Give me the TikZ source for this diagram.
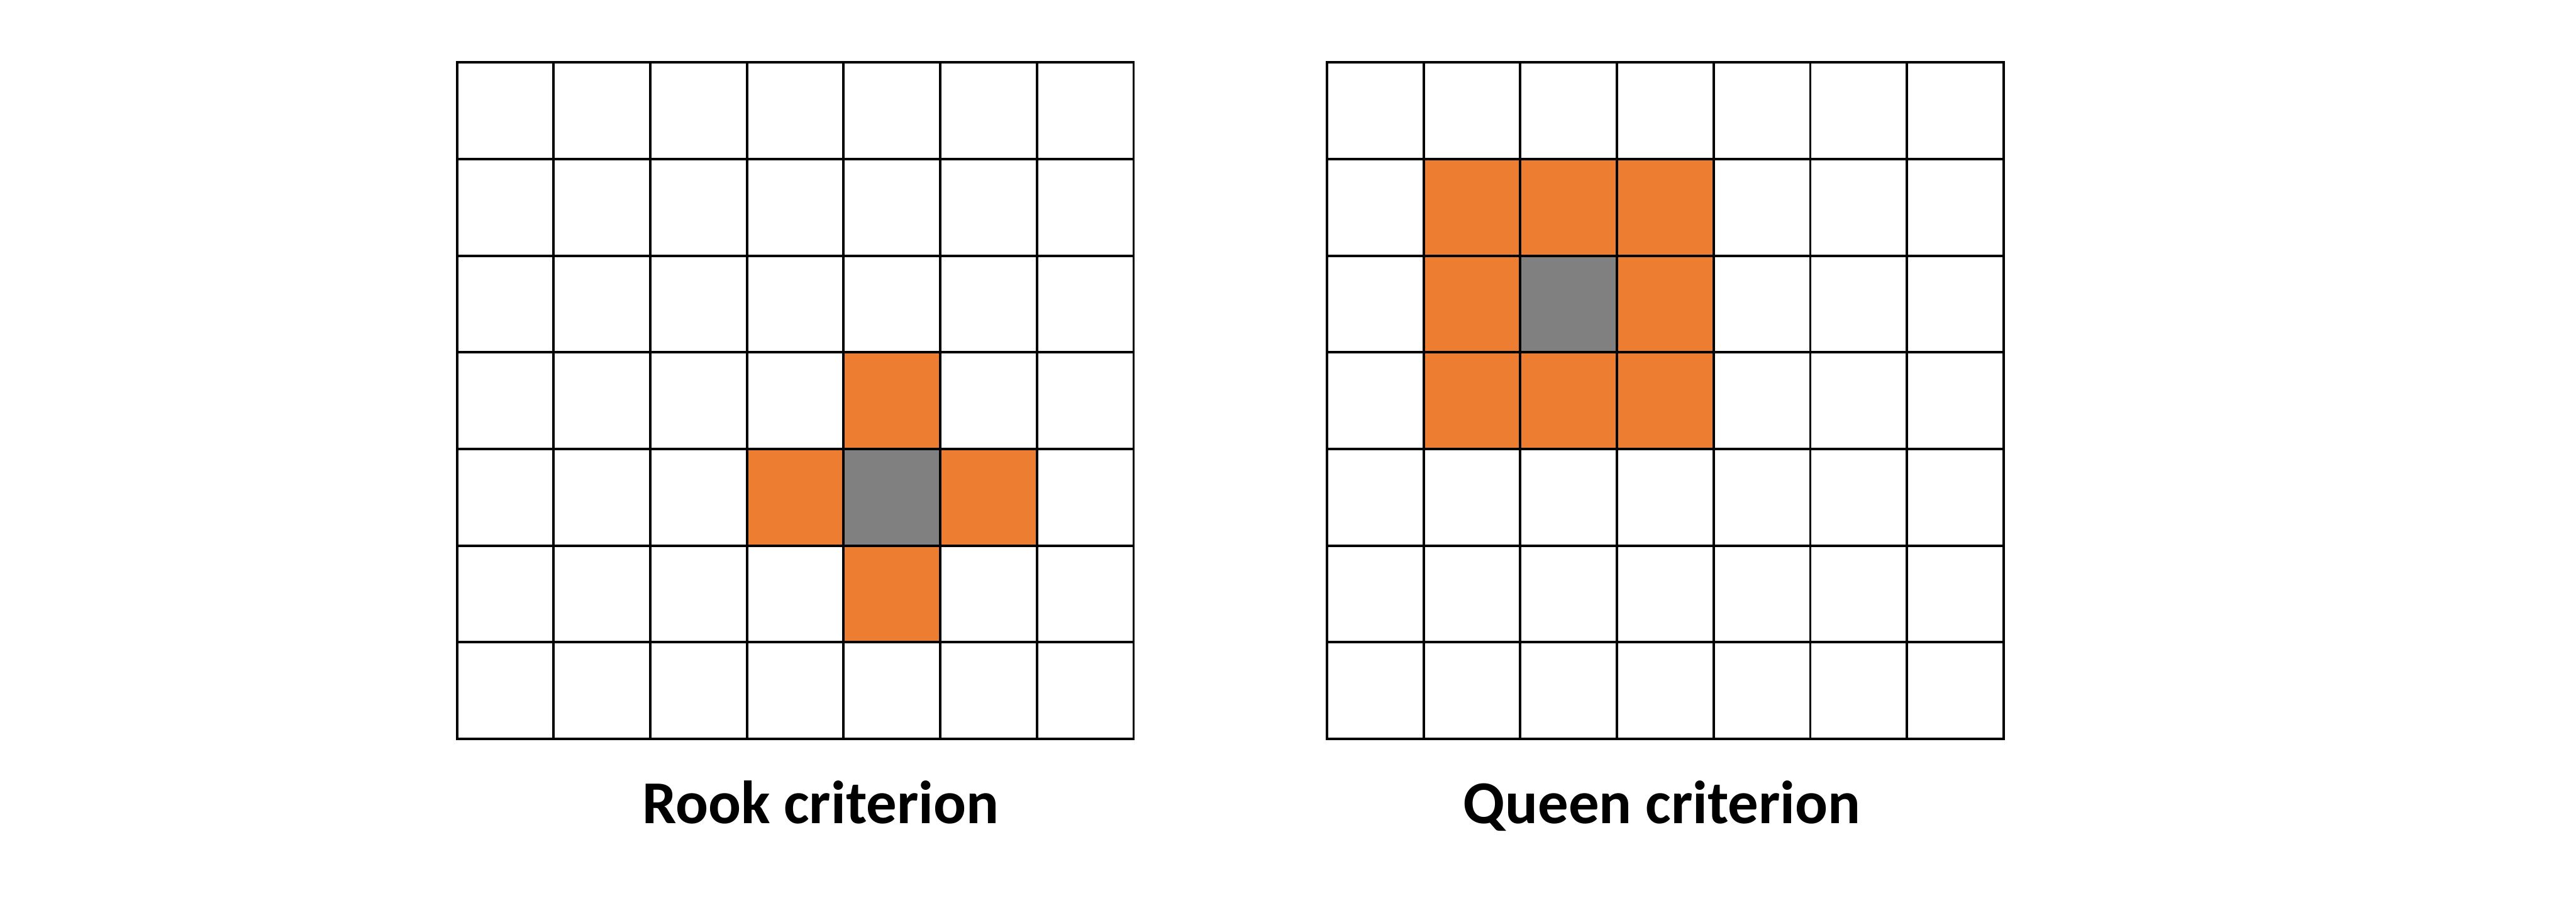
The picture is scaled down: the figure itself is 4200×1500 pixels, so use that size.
\documentclass[tikz,border=0pt]{standalone}
\usepackage{fontspec}
\setmainfont{Carlito}
\definecolor{cellorange}{HTML}{ED7D31}
\definecolor{cellgray}{HTML}{808080}
\tikzset{
  gridline/.style={line width=4pt, black, line cap=rect},
  neigh/.style={fill=cellorange},
  focus/.style={fill=cellgray},
  caption/.style={anchor=base, inner sep=0pt, font=\bfseries\fontsize{99.3}{110}\selectfont}
}
\begin{document}
\begin{tikzpicture}[x=1pt,y=-1pt]
\useasboundingbox (0,0) rectangle (4200,1500);
\fill[white] (0,0) rectangle (4200,1500);
\def\cs{157.6}
% left grid (rook)
\begin{scope}[shift={(745,101.7)}]
  \foreach \c/\r in {4/3,3/4,5/4,4/5}
    \path[neigh] (\c*\cs,\r*\cs) rectangle ++(\cs,\cs);
  \path[focus] (4*\cs,4*\cs) rectangle ++(\cs,\cs);
  \foreach \i in {0,...,7} {
    \draw[gridline] (\i*\cs,0) -- (\i*\cs,7*\cs);
    \draw[gridline] (0,\i*\cs) -- (7*\cs,\i*\cs);
  }
\end{scope}
% right grid (queen)
\begin{scope}[shift={(2163.5,101.7)}]
  \path[neigh] (1*\cs,1*\cs) rectangle (4*\cs,4*\cs);
  \path[focus] (2*\cs,2*\cs) rectangle ++(\cs,\cs);
  \foreach \i in {0,...,7} {
    \draw[gridline] (\i*\cs,0) -- (\i*\cs,7*\cs);
    \draw[gridline] (0,\i*\cs) -- (7*\cs,\i*\cs);
  }
\end{scope}
\node[caption] (rook) at (1338,1342.7) {Rook criterion};
\node[caption] (queen) at (2710,1342.7) {Queen criterion};
\end{tikzpicture}
\end{document}
